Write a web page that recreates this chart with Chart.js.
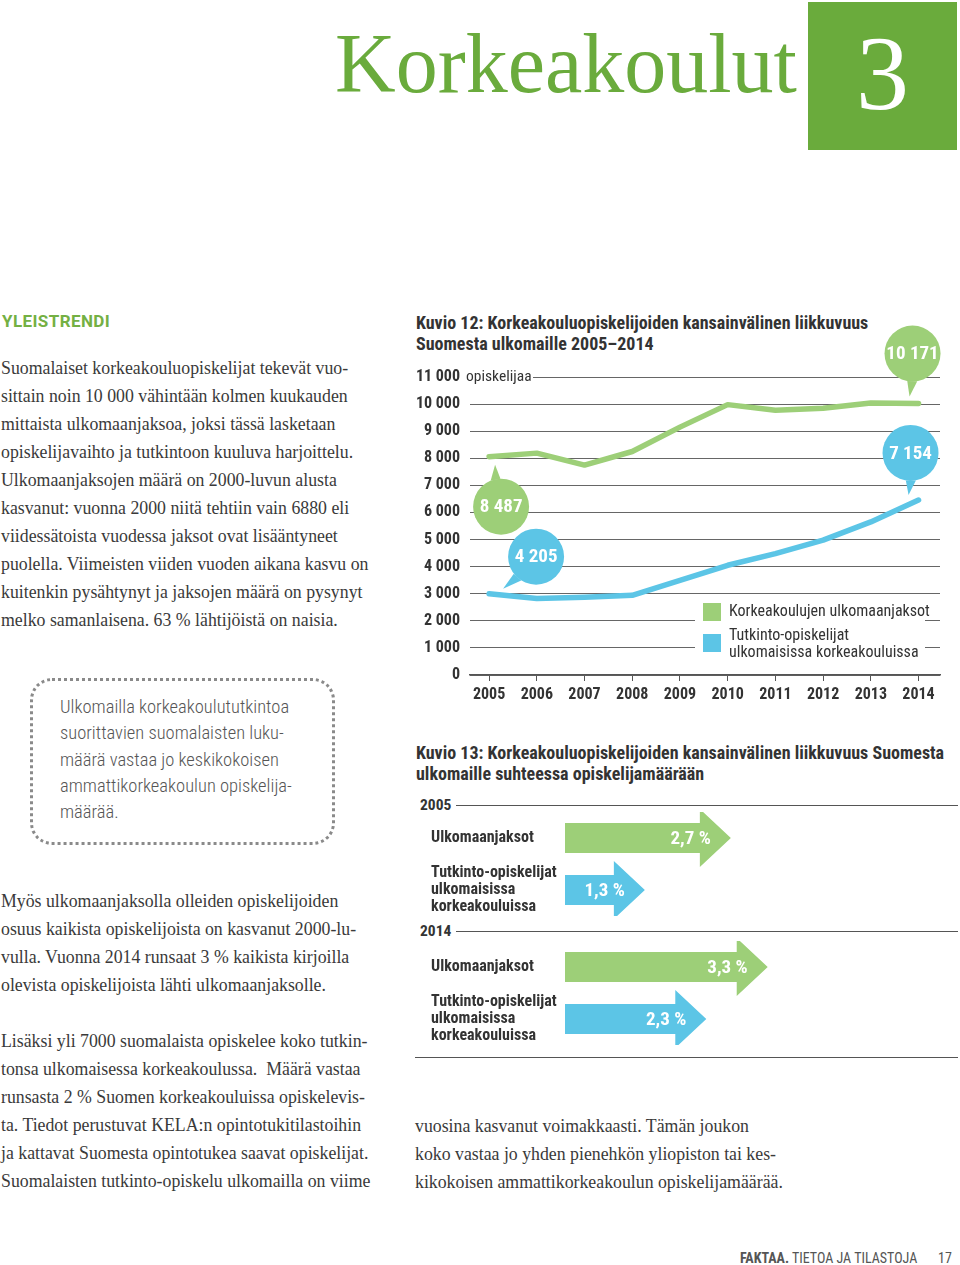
<!DOCTYPE html>
<html>
<head>
<meta charset="utf-8">
<script src="https://cdn.jsdelivr.net/npm/chart.js@4.4.0/dist/chart.umd.min.js"></script>
<style>
  body { margin: 0; width: 960px; height: 1265px; position: relative; background: #fff; overflow: hidden;
         font-family: 'Roboto Condensed', sans-serif; color: #333; }
  .abs { position: absolute; white-space: nowrap; }
  .serif { font-family: 'Liberation Serif', serif; font-size: 17.8px; line-height: 28px; color: #3a3a3a; }
  .ctitle { font-weight: bold; font-size: 18px; line-height: 21px; color: #333; }
  .rule { position: absolute; height: 1px; background: #555; }
</style>
</head>
<body>

<!-- page header -->
<div class="abs" style="left:335px;top:22px;font-family:'Liberation Serif',serif;font-size:84px;line-height:84px;color:#6aab3c">Korkeakoulut</div>
<div class="abs" style="left:808px;top:2px;width:149px;height:148px;background:#6aab3c">
  <div style="position:absolute;left:0;top:19px;width:149px;text-align:center;font-family:'Liberation Serif',serif;font-size:106px;line-height:106px;color:#fff">3</div>
</div>

<!-- left column -->
<div class="abs" style="left:2px;top:310px;font-family:Roboto,sans-serif;font-weight:bold;font-size:17px;line-height:22px;letter-spacing:0.4px;color:#74b043">YLEISTRENDI</div>
<div class="abs serif" style="left:1px;top:354px">
  Suomalaiset korkeakouluopiskelijat tekevät vuo-<br>
  sittain noin 10 000 vähintään kolmen kuukauden<br>
  mittaista ulkomaanjaksoa, joksi tässä lasketaan<br>
  opiskelijavaihto ja tutkintoon kuuluva harjoittelu.<br>
  Ulkomaanjaksojen määrä on 2000-luvun alusta<br>
  kasvanut: vuonna 2000 niitä tehtiin vain 6880 eli<br>
  viidessätoista vuodessa jaksot ovat lisääntyneet<br>
  puolella. Viimeisten viiden vuoden aikana kasvu on<br>
  kuitenkin pysähtynyt ja jaksojen määrä on pysynyt<br>
  melko samanlaisena. 63 % lähtijöistä on naisia.
</div>

<div class="abs" style="left:30px;top:678px;width:299px;height:161px;border:3px dotted #8a8a8a;border-radius:22px"></div>
<div class="abs" style="left:60px;top:694px;font-size:18.5px;line-height:26.3px;font-weight:300;color:#555">
  Ulkomailla korkeakoulututkintoa<br>
  suorittavien suomalaisten luku-<br>
  määrä vastaa jo keskikokoisen<br>
  ammattikorkeakoulun opiskelija-<br>
  määrää.
</div>

<div class="abs serif" style="left:1px;top:887px">
  Myös ulkomaanjaksolla olleiden opiskelijoiden<br>
  osuus kaikista opiskelijoista on kasvanut 2000-lu-<br>
  vulla. Vuonna 2014 runsaat 3 % kaikista kirjoilla<br>
  olevista opiskelijoista lähti ulkomaanjaksolle.
</div>
<div class="abs serif" style="left:1px;top:1027px">
  Lisäksi yli 7000 suomalaista opiskelee koko tutkin-<br>
  tonsa ulkomaisessa korkeakoulussa.&nbsp; Määrä vastaa<br>
  runsasta 2 % Suomen korkeakouluissa opiskelevis-<br>
  ta. Tiedot perustuvat KELA:n opintotukitilastoihin<br>
  ja kattavat Suomesta opintotukea saavat opiskelijat.<br>
  Suomalaisten tutkinto-opiskelu ulkomailla on viime
</div>

<!-- Kuvio 12 -->
<div class="abs ctitle" style="left:416px;top:312px">
  Kuvio 12: Korkeakouluopiskelijoiden kansainvälinen liikkuvuus<br>
  Suomesta ulkomaille 2005–2014
</div>
<canvas id="lineChart" class="abs" width="560" height="390" style="left:400px;top:320px"></canvas>

<!-- Kuvio 13 -->
<div class="abs ctitle" style="left:416px;top:742px">
  Kuvio 13: Korkeakouluopiskelijoiden kansainvälinen liikkuvuus Suomesta<br>
  ulkomaille suhteessa opiskelijamäärään
</div>
<div class="abs" style="left:420px;top:795px;font-weight:bold;font-size:15.5px;line-height:20px">2005</div>
<div class="rule" style="left:456px;top:805px;width:502px"></div>
<canvas id="share2005" class="abs" width="545" height="104" style="left:415px;top:812px"></canvas>
<div class="abs" style="left:420px;top:921px;font-weight:bold;font-size:15.5px;line-height:20px">2014</div>
<div class="rule" style="left:456px;top:931px;width:502px"></div>
<canvas id="share2014" class="abs" width="545" height="104" style="left:415px;top:941px"></canvas>
<div class="rule" style="left:415px;top:1057px;width:543px"></div>

<div class="abs serif" style="left:415px;top:1112px">
  vuosina kasvanut voimakkaasti. Tämän joukon<br>
  koko vastaa jo yhden pienehkön yliopiston tai kes-<br>
  kikokoisen ammattikorkeakoulun opiskelijamäärää.
</div>

<!-- footer -->
<div class="abs" style="left:740px;top:1249px;font-size:14px;line-height:18px;color:#555"><b>FAKTAA.</b> TIETOA JA TILASTOJA</div>
<div class="abs" style="left:938px;top:1249px;font-size:14px;line-height:18px;color:#555">17</div>

<script>
// Kuvio 12 data
const years = [2005, 2006, 2007, 2008, 2009, 2010, 2011, 2012, 2013, 2014];
const jaksot = [8060, 8190, 7750, 8250, 9150, 9980, 9770, 9850, 10040, 10020];
const tutkinto = [3000, 2820, 2870, 2940, 3490, 4050, 4480, 4980, 5650, 6460];
const yTicks = [0, 1000, 2000, 3000, 4000, 5000, 6000, 7000, 8000, 9000, 10000, 11000];
const jaksotName = 'Korkeakoulujen ulkomaanjaksot';
const tutkintoName = ['Tutkinto-opiskelijat', 'ulkomaisissa korkeakouluissa'];
const jaksotCallouts = ['8 487', '10 171'];   // first year, last year
const tutkintoCallouts = ['4 205', '7 154'];

// Kuvio 13 data
const shareRows = [['Ulkomaanjaksot'], ['Tutkinto-opiskelijat', 'ulkomaisissa', 'korkeakouluissa']];
const share2005 = [2.7, 1.3];
const share2014 = [3.3, 2.3];

const GREEN = '#9dcf78';
const BLUE = '#5cc5e6';
const FONT = 'Roboto Condensed';

let fmtThousands = v => String(v).replace(/\B(?=(\d{3})+(?!\d))/g, ' ');

// callout bubble placement, offsets from the data point (px)
const calloutStyle = [
    [{dx: 12, dy: 50, tx: 6, ty: 8}, {dx: -6, dy: -50, tx: -9, ty: -7}],
    [{dx: 47, dy: -37, tx: 14, ty: -5}, {dx: -8, dy: -47, tx: -10, ty: -5}]
];

let draw_bubble = function(ctx, cx, cy, tx, ty, color, text) {
    const r = 28;
    const a = Math.atan2(ty - cy, tx - cx);
    ctx.fillStyle = color;
    ctx.beginPath();
    ctx.arc(cx, cy, r, 0, Math.PI * 2);
    ctx.fill();
    ctx.beginPath();
    ctx.moveTo(cx + r * Math.cos(a - 0.24), cy + r * Math.sin(a - 0.24));
    ctx.lineTo(tx, ty);
    ctx.lineTo(cx + r * Math.cos(a + 0.12), cy + r * Math.sin(a + 0.12));
    ctx.closePath();
    ctx.fill();
    ctx.fillStyle = '#fff';
    ctx.font = `bold 19px "${FONT}"`;
    ctx.textAlign = 'center';
    ctx.textBaseline = 'middle';
    ctx.fillText(text, cx, cy + 1);
};

const lineExtras = {
    id: 'lineExtras',
    beforeDatasetsDraw(chart) {
        const {ctx, chartArea, scales: {y}} = chart;
        const py = y.getPixelForValue(yTicks[yTicks.length - 1]);
        ctx.save();
        ctx.fillStyle = '#fff';
        ctx.fillRect(chartArea.left - 1, py - 3, 64, 6);
        ctx.fillStyle = '#333';
        ctx.font = `15.5px "${FONT}"`;
        ctx.textBaseline = 'middle';
        ctx.fillText('opiskelijaa', chartArea.left - 4, py);
        ctx.restore();
    },
    afterDatasetsDraw(chart) {
        const {ctx, chartArea} = chart;
        ctx.save();
        // legend
        const lx = chartArea.left + 233, ly = chartArea.top + 226;
        ctx.fillStyle = '#fff';
        ctx.fillRect(lx - 8, ly - 8, 230, 68);
        ctx.font = `16px "${FONT}"`;
        ctx.textBaseline = 'middle';
        chart.data.datasets.forEach((ds, i) => {
            const top = ly + i * 31;
            ctx.fillStyle = ds.borderColor;
            ctx.fillRect(lx, top, 18, 18);
            ctx.fillStyle = '#333';
            const lines = [].concat(ds.label);
            lines.forEach((t, k) => ctx.fillText(t, lx + 26, lines.length > 1 ? top + 2 + k * 17 : top + 9));
        });
        // callouts
        chart.data.datasets.forEach((ds, i) => {
            const pts = chart.getDatasetMeta(i).data;
            [0, pts.length - 1].forEach((idx, k) => {
                const s = calloutStyle[i][k], p = pts[idx];
                draw_bubble(ctx, p.x + s.dx, p.y + s.dy, p.x + s.tx, p.y + s.ty, ds.borderColor, ds.callouts[k]);
            });
        });
        ctx.restore();
    }
};

new Chart(document.getElementById('lineChart').getContext('2d'), {
    type: 'line',
    data: {
        datasets: [{
            label: jaksotName,
            data: years.map((yr, i) => ({x: yr, y: jaksot[i]})),
            borderColor: GREEN,
            borderWidth: 5.5,
            pointRadius: 0,
            tension: 0,
            borderCapStyle: 'round',
            borderJoinStyle: 'round',
            callouts: jaksotCallouts,
        }, {
            label: tutkintoName,
            data: years.map((yr, i) => ({x: yr, y: tutkinto[i]})),
            borderColor: BLUE,
            borderWidth: 5.5,
            pointRadius: 0,
            tension: 0,
            borderCapStyle: 'round',
            borderJoinStyle: 'round',
            callouts: tutkintoCallouts,
        }],
    },
    options: {
        responsive: false,
        animation: false,
        events: [],
        layout: {padding: {top: 57, right: 20, left: 0, bottom: 0}},
        plugins: {legend: {display: false}, tooltip: {enabled: false}},
        scales: {
            x: {
                type: 'linear',
                min: 2004.6,
                max: 2014.45,
                afterBuildTicks: s => { s.ticks = years.map(v => ({value: v})); },
                ticks: {callback: v => String(v), font: {family: FONT, size: 16, weight: 'bold'}, color: '#333', padding: 4, maxRotation: 0},
                grid: {drawOnChartArea: false, drawTicks: true, tickLength: 6, color: '#555'},
                border: {display: true, color: '#555', width: 1.5},
                afterFit: s => { s.height = 35; },
            },
            y: {
                min: 0,
                max: 11000,
                afterBuildTicks: s => { s.ticks = yTicks.map(v => ({value: v})); },
                ticks: {callback: v => fmtThousands(v), font: {family: FONT, size: 16, weight: 'bold'}, color: '#333', padding: 10},
                grid: {color: '#666', lineWidth: 1, drawTicks: false},
                border: {display: false},
                afterFit: s => { s.width = 70; },
            },
        },
    },
    plugins: [lineExtras],
});

// arrows for Kuvio 13: bars are replaced by arrow shapes at the same scale positions
const arrowPlugin = {
    id: 'arrows',
    beforeDatasetsDraw() { return false; },
    afterDraw(chart) {
        const ctx = chart.ctx;
        const ds = chart.data.datasets[0];
        ctx.save();
        chart.getDatasetMeta(0).data.forEach((bar, i) => {
            const tip = bar.x, y = bar.y, base = bar.base;
            const head = 31, hh = 29, bh = 15;
            ctx.fillStyle = ds.backgroundColor[i];
            ctx.beginPath();
            ctx.moveTo(base, y - bh);
            ctx.lineTo(tip - head, y - bh);
            ctx.lineTo(tip - head, y - hh);
            ctx.lineTo(tip, y);
            ctx.lineTo(tip - head, y + hh);
            ctx.lineTo(tip - head, y + bh);
            ctx.lineTo(base, y + bh);
            ctx.closePath();
            ctx.fill();
            ctx.fillStyle = '#fff';
            ctx.font = `bold 19px "${FONT}"`;
            ctx.textAlign = 'right';
            ctx.textBaseline = 'middle';
            ctx.fillText(ds.data[i].toFixed(1).replace('.', ',') + ' %', tip - 20, y + 1);
        });
        ctx.restore();
    }
};

let make_share_chart = function(canvas_id, values) {
    new Chart(document.getElementById(canvas_id).getContext('2d'), {
        type: 'bar',
        data: {
            labels: shareRows,
            datasets: [{data: values, backgroundColor: [GREEN, BLUE]}],
        },
        options: {
            indexAxis: 'y',
            responsive: false,
            animation: false,
            events: [],
            layout: {padding: {left: 16, top: 0, bottom: 0, right: 0}},
            plugins: {legend: {display: false}, tooltip: {enabled: false}},
            scales: {
                x: {display: false, min: 0, max: 6.43},
                y: {
                    ticks: {autoSkip: false, crossAlign: 'far', font: {family: FONT, size: 16, weight: 'bold', lineHeight: 1.06}, color: '#333', padding: 0},
                    grid: {display: false},
                    border: {display: false},
                    afterFit: s => { s.width = 134; s.paddingTop = 0; s.paddingBottom = 0; },
                },
            },
        },
        plugins: [arrowPlugin],
    });
};

make_share_chart('share2005', share2005);
make_share_chart('share2014', share2014);
</script>
</body>
</html>
